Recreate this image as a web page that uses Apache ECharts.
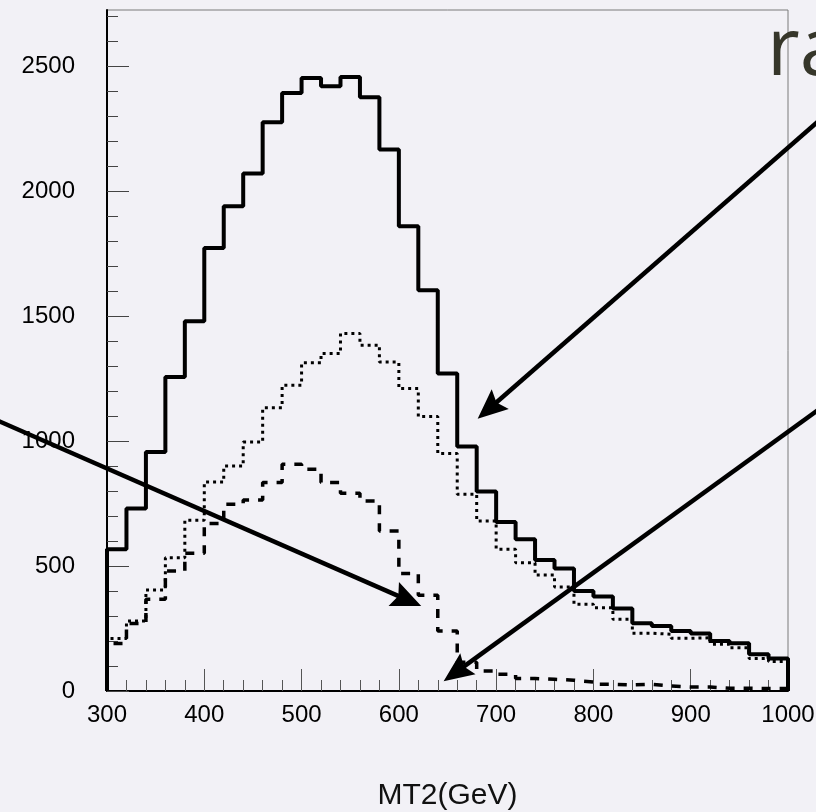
<!DOCTYPE html>
<html>
<head>
<meta charset="utf-8">
<script src="https://cdn.jsdelivr.net/npm/echarts@6/dist/echarts.min.js"></script>
<style>
html,body{margin:0;padding:0;background:#f2f1f6;}
#c{width:816px;height:812px;}
</style>
</head>
<body>
<div id="c"></div>
<script>
// Bin edges (GeV)
const binEdges = [300,320,340,360,380,400,420,440,460,480,500,520,540,560,580,600,620,640,660,680,700,720,740,760,780,800,820,840,860,880,900,920,940,960,980,1000];
// Histogram contents per bin
const solidValues  = [567,730,956,1256,1480,1773,1940,2071,2276,2393,2453,2420,2457,2376,2167,1860,1604,1270,978,798,676,607,524,490,400,378,330,271,260,240,230,200,191,147,130];
const dottedValues = [210,280,404,533,683,836,900,996,1133,1223,1313,1350,1431,1384,1316,1210,1098,950,787,680,567,513,464,416,347,333,287,231,227,211,213,187,173,130,118];
const dashedValues = [190,270,367,480,551,670,747,764,834,907,887,834,791,760,640,470,383,240,115,80,67,50,47,43,36,27,24,27,20,16,16,11,11,10,10];
// Axis ticks
const xMin = 300, xMax = 1000;
const yMin = 0, yMax = 2725;
const yMajorTicks = [0,500,1000,1500,2000,2500];
const yMinorTicks = [100,200,300,400,600,700,800,900,1100,1200,1300,1400,1600,1700,1800,1900,2100,2200,2300,2400,2600,2700];
const xAxisTitle = 'MT2(GeV)';
const cornerText = 'ra';
// Annotation arrows in data coordinates [from, to]
const arrowFrom = [[180,1095],[1040,2310],[1040,1150]];
const arrowTo   = [[623,340],[681,1089],[646,39]];

function histPoints(vals){
  const pts = [[binEdges[0],0]];
  for (let i=0;i<vals.length;i++) pts.push([binEdges[i], vals[i]]);
  pts.push([binEdges[binEdges.length-1], vals[vals.length-1]]);
  pts.push([binEdges[binEdges.length-1], 0]);
  return pts;
}

const chart = echarts.init(document.getElementById('c'), null, {renderer:'canvas'});
const labelFont = "'Liberation Sans', Arial, sans-serif";
const plain = v => String(v);
const option = {
  backgroundColor:'#f2f1f6',
  animation:false,
  grid:{left:107, top:10, right:28, bottom:121, show:true, borderColor:'#7a7a7a', borderWidth:1,
        backgroundColor:'transparent', containLabel:false, outerBoundsMode:'none'},
  xAxis:[{
    type:'value', min:xMin, max:xMax, interval:100,
    axisLine:{show:true, onZero:false, lineStyle:{color:'#000', width:2}},
    axisTick:{show:true, inside:true, length:22, lineStyle:{color:'#555', width:1}},
    minorTick:{show:true, splitNumber:5, length:11, lineStyle:{color:'#555', width:1}},
    splitLine:{show:false}, minorSplitLine:{show:false},
    axisLabel:{margin:12, fontSize:24, color:'#000', fontFamily:labelFont, formatter:plain},
    name:xAxisTitle, nameLocation:'middle', nameGap:90,
    nameTextStyle:{fontSize:30, color:'#111', fontFamily:labelFont}
  }],
  yAxis:[{
    type:'value', min:yMin, max:yMax, position:'left',
    axisLine:{show:true, onZero:false, lineStyle:{color:'#000', width:2}},
    axisTick:{show:true, inside:true, length:22, customValues:yMajorTicks, lineStyle:{color:'#444', width:1}},
    splitLine:{show:false},
    axisLabel:{margin:32, fontSize:24, color:'#000', fontFamily:labelFont, customValues:yMajorTicks, formatter:plain}
  },{
    type:'value', min:yMin, max:yMax, position:'left', offset:0,
    axisLine:{show:false},
    axisTick:{show:true, inside:true, length:11, customValues:yMinorTicks, lineStyle:{color:'#444', width:1}},
    splitLine:{show:false},
    axisLabel:{show:false}
  }],
  series:[
    {type:'line', name:'dashed', step:'end', data:histPoints(dashedValues), showSymbol:false, clip:false,
     lineStyle:{color:'#000', width:3.5, type:[9,9]}, z:3},
    {type:'line', name:'dotted', step:'end', data:histPoints(dottedValues), showSymbol:false, clip:false,
     lineStyle:{color:'#000', width:3, type:[3,4]}, z:3},
    {type:'line', name:'solid', step:'end', data:histPoints(solidValues), showSymbol:false, clip:false,
     lineStyle:{color:'#000', width:4, type:'solid'}, z:4}
  ]
};
chart.setOption(option);

// arrows + corner text
const graphics = [];
for (let i=0;i<arrowFrom.length;i++){
  const s = chart.convertToPixel({gridIndex:0}, arrowFrom[i]);
  const t = chart.convertToPixel({gridIndex:0}, arrowTo[i]);
  const dx = t[0]-s[0], dy = t[1]-s[1];
  const len = Math.sqrt(dx*dx+dy*dy);
  const ux = dx/len, uy = dy/len;
  const L = 30, W = 13;
  const bx = t[0]-ux*L, by = t[1]-uy*L;
  graphics.push({type:'line', silent:true, z:10,
    shape:{x1:s[0], y1:s[1], x2:bx+ux*6, y2:by+uy*6},
    style:{stroke:'#000', lineWidth:4.5}});
  graphics.push({type:'polygon', silent:true, z:10,
    shape:{points:[[t[0],t[1]],[bx-uy*W, by+ux*W],[bx+ux*5, by+uy*5],[bx+uy*W, by-ux*W]]},
    style:{fill:'#000'}});
}
graphics.push({type:'text', silent:true, z:10, x:767, y:52,
  style:{text:cornerText, fill:'#36362a', font:"500 80px 'Open Sans', Lato, sans-serif", verticalAlign:'middle', align:'left'}});
chart.setOption({graphic:graphics});
</script>
</body>
</html>
